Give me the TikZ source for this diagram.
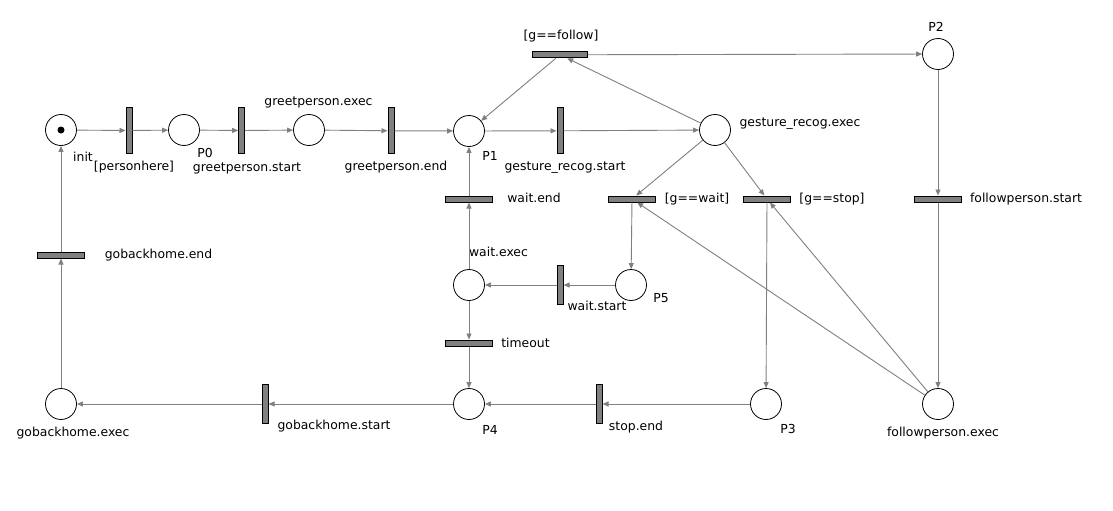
\documentclass[tikz,border=0pt]{standalone}
\usepackage{fontspec}
\setmainfont{DejaVu Sans}
\usetikzlibrary{arrows.meta}
\definecolor{barfill}{HTML}{808080}
\definecolor{arcgray}{HTML}{808080}
\begin{document}
\begin{tikzpicture}[x=1pt,y=-1pt,
  place/.style={circle,draw=black,line width=0.8pt,minimum size=31pt,inner sep=0pt},
  tbar/.style={rectangle,draw=black,fill=barfill,line width=0.8pt,inner sep=0pt},
  vbar/.style={tbar,minimum width=6.2pt,minimum height=46pt},
  vbarshort/.style={tbar,minimum width=6.2pt,minimum height=38.5pt},
  hbar/.style={tbar,minimum width=46.5pt,minimum height=6.2pt},
  hbarwide/.style={tbar,minimum width=54.5pt,minimum height=6.2pt},
  arc/.style={draw=arcgray,line width=0.9pt,-{Triangle[length=6pt,width=5pt]}},
  lbl/.style={font=\fontsize{12.4}{14}\selectfont,anchor=mid,inner sep=0pt}]

% canvas
\fill[white] (0,0) rectangle (1113,511);
\useasboundingbox (0,0) rectangle (1113,511);

% places
\node[place] (init)   at (61,130) {};
\node[place] (P0)     at (184,130) {};
\node[place] (gpexec) at (309,130) {};
\node[place] (P1)     at (469,131) {};
\node[place] (grexec) at (715,130) {};
\node[place] (P2)     at (938,54) {};
\node[place] (waitexec) at (469,285) {};
\node[place] (P5)     at (631,285) {};
\node[place] (gbexec) at (61,404) {};
\node[place] (P4)     at (469,404) {};
\node[place] (P3)     at (766,404) {};
\node[place] (fpexec) at (938,404) {};

% token
\fill[black] (init.center) circle (3.5pt);

% transitions
\node[vbar] (personhere) at (129,130.5) {};
\node[vbar] (gpstart)    at (241.7,130.5) {};
\node[vbar] (gpend)      at (391,130.8) {};
\node[vbar] (grstart)    at (560,130.8) {};
\node[hbarwide] (gfollow) at (560,54.8) {};
\node[hbar] (waitend)    at (469,199) {};
\node[hbar] (gwait)      at (632,199) {};
\node[hbar] (gstop)      at (767,199) {};
\node[hbar] (fpstart)    at (938,199) {};
\node[hbar] (gbend)      at (61,255) {};
\node[vbarshort] (waitstart) at (560,285) {};
\node[hbar] (timeout)    at (469,343) {};
\node[vbarshort] (gbstart) at (265,404) {};
\node[vbarshort] (stopend) at (599,404) {};

% labels
\node[lbl] (linit)   at (83,159) {init};
\node[lbl] (lph)     at (134,168) {[personhere]};
\node[lbl] (lP0)     at (205,155) {P0};
\node[lbl] (lgps)    at (247,168.5) {greetperson.start};
\node[lbl] (lgpx)    at (318.5,103) {greetperson.exec};
\node[lbl] (lgpe)    at (396,168) {greetperson.end};
\node[lbl] (lP1)     at (490,157.5) {P1};
\node[lbl] (lgrs)    at (565,168) {gesture\_recog.start};
\node[lbl] (lgf)     at (561,37) {[g==follow]};
\node[lbl] (lP2)     at (936,29) {P2};
\node[lbl] (lgrx)    at (800,124) {gesture\_recog.exec};
\node[lbl] (lwe)     at (534,199.5) {wait.end};
\node[lbl] (lgw)     at (697,200) {[g==wait]};
\node[lbl] (lgs)     at (832,200) {[g==stop]};
\node[lbl] (lfps)    at (1026,200) {followperson.start};
\node[lbl] (lwx)     at (498.5,254) {wait.exec};
\node[lbl] (lws)     at (597,308) {wait.start};
\node[lbl] (lP5)     at (661,300) {P5};
\node[lbl] (lto)     at (525.5,344.5) {timeout};
\node[lbl] (lgbe)    at (158.5,256) {gobackhome.end};
\node[lbl] (lgbx)    at (73,434) {gobackhome.exec};
\node[lbl] (lgbs)    at (334,427) {gobackhome.start};
\node[lbl] (lP4)     at (490,431.5) {P4};
\node[lbl] (lse)     at (636,428) {stop.end};
\node[lbl] (lP3)     at (788,431) {P3};
\node[lbl] (lfpx)    at (943,434) {followperson.exec};

% arcs
\path[arc] (init) -- (personhere);
\path[arc] (personhere) -- (P0);
\path[arc] (P0) -- (gpstart);
\path[arc] (gpstart) -- (gpexec);
\path[arc] (gpexec) -- (gpend);
\path[arc] (gpend) -- (P1);
\path[arc] (P1) -- (grstart);
\path[arc] (grstart) -- (grexec);
\path[arc] (grexec) -- (gfollow);
\path[arc] (gfollow) -- (P1);
\path[arc] (gfollow) -- (P2);
\path[arc] (P2) -- (fpstart);
\path[arc] (fpstart) -- (fpexec);
\path[arc] (fpexec) -- (gwait);
\path[arc] (fpexec) -- (gstop);
\path[arc] (grexec) -- (gwait);
\path[arc] (grexec) -- (gstop);
\path[arc] (gwait) -- (P5);
\path[arc] (gstop) -- (P3);
\path[arc] (P5) -- (waitstart);
\path[arc] (waitstart) -- (waitexec);
\path[arc] (waitexec) -- (waitend);
\path[arc] (waitend) -- (P1);
\path[arc] (waitexec) -- (timeout);
\path[arc] (timeout) -- (P4);
\path[arc] (P3) -- (stopend);
\path[arc] (stopend) -- (P4);
\path[arc] (P4) -- (gbstart);
\path[arc] (gbstart) -- (gbexec);
\path[arc] (gbexec) -- (gbend);
\path[arc] (gbend) -- (init);
\end{tikzpicture}
\end{document}
